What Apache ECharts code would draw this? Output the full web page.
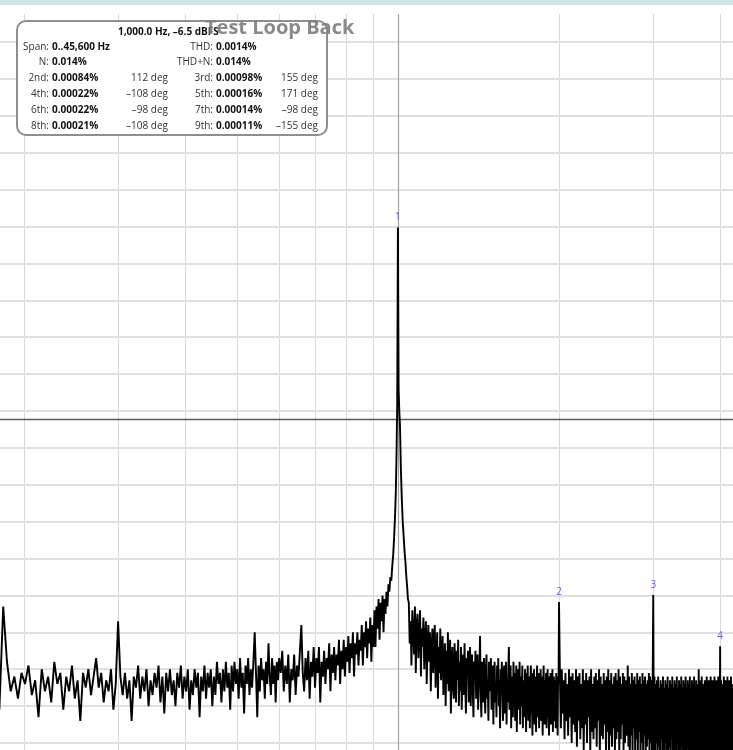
<!DOCTYPE html>
<html><head><meta charset="utf-8">
<script src="https://cdn.jsdelivr.net/npm/echarts@6/dist/echarts.min.js"></script>
<style>html,body{margin:0;padding:0;background:#fff;overflow:hidden}#c{width:733px;height:750px}</style>
</head><body><div id="c"></div>
<script>
// ---- spectrum trace (dB) ----
const segAStartHz = 180, segAStepHz = 3;
const segALevels = [
-131,-103,-118,-126,-122,-128,-121,-124,-119,-127,
-123,-133,-120,-126,-122,-129,-118,-124,-121,-131,
-122,-126,-119,-128,-123,-134,-121,-125,-120,-127,
-122,-117,-125,-121,-129,-123,-126,-120,-131,-124,
-107,-122,-127,-121,-128,-123,-134,-122,-125,-119,
-128,-122,-126,-120,-130,-123,-127,-121,-125,-119,
-129,-122,-132,-121,-126,-120,-127,-123,-130,-121,
-125,-119,-128,-122,-126,-120,-131,-123,-127,-120,
-125,-121,-133,-122,-126,-119,-128,-121,-125,-120,
-130,-122,-127,-118,-124,-121,-129,-120,-126,-118,
-125,-121,-131,-119,-126,-118,-124,-120,-128,-117,
-125,-121,-132,-119,-124,-117,-127,-120,-125,-118,
-110,-121,-133,-119,-126,-117,-123,-120,-128,-118,
-124,-113,-122,-127,-117,-124,-119,-129,-118,-123,
-117];
const segBStartHz = 604, segBStepHz = 4;
const segBLevels = [
-121,-115,-126,-119,-124,-116,-129,-120,-123,-116,
-127,-119,-122,-115,-108,-121,-126,-117,-123,-115,
-128,-118,-122,-114,-125,-117,-121,-114,-129,-118,
-122,-115,-124,-117,-120,-113,-126,-116,-121,-114,
-123,-116,-119,-112,-124,-115,-120,-112,-122,-114,
-118,-111,-121,-113,-117,-110,-122,-113,-116,-110,
-119,-112,-115,-108,-119,-110,-114,-107,-117,-109,
-113,-106,-118,-108,-114,-104,-114,-103,-109,-101,
-112,-102,-107,-100,-110,-101,-105,-99,-103];
const peakFreqs  = [960,964,968,972,976,980,984,988,991,994,997,1000,1003,1006,1009,1013,1017,1021,1025,1029,1033,1037,1041,1044];
const peakLevels = [-97,-99,-95,-96,-92,-89,-84,-78,-72,-62,-48,-0.3,-44,-50,-54,-66,-74,-80,-84,-88,-91,-95,-98,-101];
const segCStartHz = 1048, segCStepHz = 4;
const segCLevels = [
-102,-113,-107,-119,-104,-110,-116,-103,-121,-108,
-105,-117,-111,-104,-122,-109,-114,-106,-120,-112,
-107,-124,-113,-108,-118,-110,-126,-115,-109,-121,
-112,-108,-125,-117,-110,-128,-114,-121,-109,-123,
-116,-111,-127,-119,-113,-130,-115,-124,-110,-126,
-118,-112,-132,-120,-114,-125,-128,-113,-121,-129,
-115,-123,-112,-130,-118,-126,-114,-131,-120,-116,
-127,-113,-124,-132,-117,-121,-115,-129,-122,-114,
-130,-119,-116,-126,-133,-118,-123,-115,-128,-121,
-116,-131,-124,-119,-111,-127,-133,-118,-122,-129,
-117,-125,-132,-120,-116,-128,-123,-134,-118,-126,
-121,-117,-131,-127,-119,-135,-122,-118,-129,-124,
-133,-119,-126,-117,-130,-123,-136,-120,-125,-118,
-128,-134,-121,-119,-132,-126,-118,-135,-123,-129,
-120,-114,-131,-125,-119,-136,-122,-128,-133,-118,
-126,-121,-134,-129,-119,-137,-124,-120,-131,-127,
-118,-135,-122,-130,-126,-119,-136,-123,-128,-133,
-120,-125,-137,-121,-131,-119,-134,-127,-122,-136,
-124,-119,-132,-128,-138,-121,-126,-120,-135,-129,
-122,-137,-125,-119,-133,-127,-121,-136,-124,-130,
-120,-134,-128,-122,-138,-125,-119,-131,-135,-123,
-127,-121,-136,-130,-120,-133,-126,-138,-122,-129,
-121,-135,-124,-131,-120,-137,-126,-122,-134,-128,
-123,-136,-121,-130,-125,-138,-122,-124,-101.8];
const segDStartHz = 2008, segDStepHz = 8;
const segDLevels = [
-122,-136,-120,-132,-123,-139,-121,-134,-124,-138,
-120,-133,-122,-140,-121,-135,-123,-137,-120,-141,
-122,-134,-121,-139,-124,-136,-120,-142,-123,-135,
-121,-140,-123,-133,-122,-143,-120,-137,-124,-139,
-122,-136,-121,-141,-123,-134,-120,-144,-122,-138,
-124,-139,-121,-135,-123,-142,-122,-137,-120,-145,
-123,-138,-121,-141,-124,-136,-122,-143,-121,-139,
-123,-137,-120,-144,-122,-139,-124,-135,-121,-142,
-122,-140,-123,-138,-137,-119,-141,-122,-145,-124,
-138,-121,-143,-123,-136,-122,-146,-124,-139,-121,
-142,-123,-137,-122,-145,-124,-140,-121,-143,-123,
-138,-122,-146,-124,-141,-123,-139,-121,-144,-122,
-140,-123,-145,-124,-99.9,-142,-122,-147,-124,-140,
-123,-144,-122,-141,-125,-146,-123,-139,-124,-145,
-122,-142,-125,-147,-123,-140,-124,-145,-122,-143,
-125,-141,-123,-146,-124,-139,-122,-144,-125,-147,
-123,-142,-124,-145,-122,-140,-125,-148,-123,-143,
-124,-146,-122,-141,-125,-144,-123,-147,-124,-142,
-122,-145,-125,-140,-123,-148,-124,-143,-122,-146,
-125,-141,-123,-147,-124,-144,-122,-142,-125,-148,
-123,-145,-124,-141,-146,-120,-143,-125,-147,-123,
-144,-122,-148,-124,-142,-125,-146,-123,-145,-124,
-141,-122,-147,-125,-143,-123,-148,-124,-144,-122,
-146,-125,-142,-123,-147,-124,-145,-122,-149,-125,
-143,-123,-146,-124,-142,-122,-148,-125,-144,-113.8,
-145,-123,-147,-124,-142,-125,-148,-122,-144,-124,
-146,-123,-143,-125,-149,-122,-145,-124,-147,-123,
-144,-125,-148,-122,-146,-124,-143,-125,-147];

// ---- harmonic markers ----
const harmonicFreqs  = [1000, 2000, 3000, 4000];
const harmonicLevels = [-0.3, -101.8, -99.9, -113.8];
const harmonicLabels = ['1', '2', '3', '4'];

// ---- axes / grid values ----
const xMinHz = 180.5, xMaxHz = 4228;
const yMinDb = -141.9, yMaxDb = 57.6;
const freqGridHz = [200, 300, 400, 500, 600, 700, 800, 900, 2000, 3000, 4000];
const levelGridDb = [-140, -130, -120, -110, -100, -90, -80, -70, -60, -50, -40, -30, -20, -10, 0, 10, 20, 30, 40, 50];
const cursorHz = 1000;
const refLevelDb = -52.2;

// ---- info box text ----
const chartTitle = 'Test Loop Back';
const infoHeader = '1,000.0 Hz, –6.5 dBFS';
const infoLabelsL = ['Span:', 'N:', '2nd:', '4th:', '6th:', '8th:'];
const infoValuesL = ['0..45,600 Hz', '0.014%', '0.00084%', '0.00022%', '0.00022%', '0.00021%'];
const infoPhaseL  = ['', '', '112 deg', '–108 deg', '–98 deg', '–108 deg'];
const infoLabelsR = ['THD:', 'THD+N:', '3rd:', '5th:', '7th:', '9th:'];
const infoValuesR = ['0.0014%', '0.014%', '0.00098%', '0.00016%', '0.00014%', '0.00011%'];
const infoPhaseR  = ['', '', '155 deg', '171 deg', '–98 deg', '–155 deg'];

// ---- build trace ----
const trace = [];
segALevels.forEach((v, i) => trace.push([segAStartHz + i * segAStepHz, v]));
segBLevels.forEach((v, i) => trace.push([segBStartHz + i * segBStepHz, v]));
peakFreqs.forEach((f, i) => trace.push([f, peakLevels[i]]));
segCLevels.forEach((v, i) => trace.push([segCStartHz + i * segCStepHz, v]));
segDLevels.forEach((v, i) => trace.push([segDStartHz + i * segDStepHz, v]));

const FONT = '"Open Sans", "DejaVu Sans", sans-serif';
const rowY = [47, 62, 78, 94, 110, 126];
const gfx = [
  { type: 'rect', shape: { x: 0, y: 0, width: 733, height: 5 }, style: { fill: '#d3e2e3' }, z: 100 },
  { type: 'rect', shape: { x: 17, y: 21, width: 310, height: 114, r: 9 }, style: { fill: '#ffffff', stroke: '#8e8e8e', lineWidth: 2 }, z: 100 },
  { type: 'text', x: 118, y: 32, style: { text: infoHeader, font: 'bold 10px ' + FONT, fill: '#111', align: 'left', verticalAlign: 'middle', textAlign: 'left', textVerticalAlign: 'middle' }, z: 101 },
  { type: 'text', x: 205, y: 28, style: { text: chartTitle, font: 'bold 20px ' + FONT, fill: 'rgba(128,128,128,0.92)', align: 'left', verticalAlign: 'middle', textAlign: 'left', textVerticalAlign: 'middle' }, z: 102 }
];
function txt(x, y, s, bold, align) {
  gfx.push({ type: 'text', x: x, y: y, style: { text: s, font: (bold ? 'bold ' : '') + '10px ' + FONT, fill: bold ? '#111' : '#333', align: align, verticalAlign: 'middle', textAlign: align, textVerticalAlign: 'middle' }, z: 101 });
}
rowY.forEach((y, i) => {
  txt(49, y, infoLabelsL[i], false, 'right');
  txt(52, y, infoValuesL[i], true, 'left');
  if (infoPhaseL[i]) txt(168, y, infoPhaseL[i], false, 'right');
  txt(213, y, infoLabelsR[i], false, 'right');
  txt(216, y, infoValuesR[i], true, 'left');
  if (infoPhaseR[i]) txt(318, y, infoPhaseR[i], false, 'right');
});

const gridMarks = []
  .concat(freqGridHz.map(v => ({ xAxis: v, lineStyle: { color: '#d8d8d8', width: 1, type: 'solid' } })))
  .concat(levelGridDb.map(v => ({ yAxis: v, lineStyle: { color: '#e0e0e0', width: 1.8, type: 'solid' } })))
  .concat([{ xAxis: cursorHz, lineStyle: { color: '#a3a3a3', width: 1.2, type: 'solid' } },
           { yAxis: refLevelDb, lineStyle: { color: '#5a5a5a', width: 1.3, type: 'solid' } }]);

const chart = echarts.init(document.getElementById('c'), null, { renderer: 'canvas' });
chart.setOption({
  animation: false,
  backgroundColor: '#ffffff',
  grid: { left: 0, right: 0, top: 14, bottom: 0, containLabel: false },
  xAxis: {
    type: 'log', logBase: 10, min: xMinHz, max: xMaxHz, position: 'top',
    axisLine: { show: true, lineStyle: { color: '#c4c4c4', width: 1.5 } },
    axisTick: { show: false }, axisLabel: { show: false },
    splitLine: { show: false }, minorSplitLine: { show: false }
  },
  yAxis: {
    type: 'value', min: yMinDb, max: yMaxDb,
    axisLine: { show: false }, axisTick: { show: false }, axisLabel: { show: false },
    splitLine: { show: false }
  },
  graphic: { elements: gfx },
  series: [
    {
      type: 'line', data: trace, showSymbol: false, symbol: 'none', z: 3,
      lineStyle: { color: '#000', width: 1.9 }, clip: true,
      markLine: { silent: true, symbol: ['none', 'none'], label: { show: false }, z: 1, animation: false, data: gridMarks }
    },
    {
      type: 'scatter', z: 4, symbolSize: 2, itemStyle: { color: 'rgba(0,0,0,0)' },
      data: harmonicFreqs.map((f, i) => [f, harmonicLevels[i]]),
      label: { show: true, position: 'top', distance: 4, formatter: p => harmonicLabels[p.dataIndex], color: '#3b3bd8', fontSize: 10, fontFamily: FONT }
    }
  ]
});
</script></body></html>
